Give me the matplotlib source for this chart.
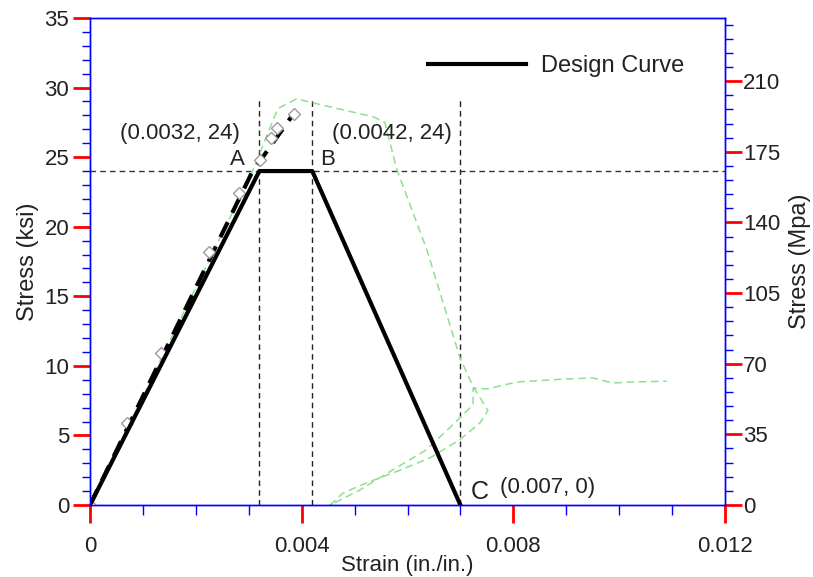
import matplotlib
matplotlib.use("Agg")
import matplotlib.pyplot as plt
from matplotlib.ticker import MultipleLocator

plt.rcParams['font.family'] = ['Liberation Sans', 'DejaVu Sans']

# Design curve
design_strain = [0.0, 0.0032, 0.0042, 0.007]
design_stress = [0.0, 24.0, 24.0, 0.0]

# Test data (diamonds / dashed)
test_strain = [0.0, 0.0007, 0.00134, 0.00225, 0.00282, 0.00321, 0.00342, 0.00354, 0.00386]
test_stress = [0.0, 5.9, 10.9, 18.2, 22.4, 24.8, 26.4, 27.1, 28.1]
fit_strain = [0.0, 0.00306, 0.00388]
fit_stress = [0.0, 23.9, 28.3]

# Experimental hysteresis (green dashed)
green_strain = [0.0, 0.00306, 0.00355, 0.00391, 0.0041, 0.00535, 0.00557, 0.0058, 0.00637,
                0.00699, 0.00724, 0.00752, 0.00737, 0.00699, 0.00643, 0.00586, 0.00523,
                0.00478, 0.00454, 0.0051, 0.00571, 0.00635, 0.00681, 0.00724, 0.00724,
                0.0075, 0.00807, 0.00901, 0.0095, 0.00988, 0.01026, 0.0109]
green_stress = [0.0, 23.9, 28.5, 29.2, 29.0, 27.9, 27.5, 24.1, 18.3,
                10.6, 8.5, 6.8, 5.9, 4.7, 3.4, 2.5, 1.6,
                0.86, 0.0, 1.08, 2.5, 3.95, 5.6, 7.2, 8.4,
                8.34, 8.84, 9.06, 9.13, 8.77, 8.84, 8.9]

ref_x = [0.0032, 0.0042, 0.007]
ref_top = 29.1
ref_y = 24.0

ksi_to_mpa = 6.895
left_ticks = [0, 5, 10, 15, 20, 25, 30, 35]
right_ticks = [0, 35, 70, 105, 140, 175, 210]
x_ticks = [0, 0.004, 0.008, 0.012]
x_ticklabels = ['0', '0.004', '0.008', '0.012']

fig = plt.figure(figsize=(8.13, 5.77), dpi=100)
ax = fig.add_axes([90/813, 1-505/577, (725-90)/813, (505-18)/577])

# reference lines
ax.axhline(ref_y, color='#333333', ls=(0, (4, 3)), lw=1.0, zorder=1)
for xv in ref_x:
    ax.plot([xv, xv], [0, ref_top], color='#222222', ls=(0, (4, 3)), lw=1.0, zorder=1)

ax.plot(green_strain, green_stress, color='#8fe08f', ls=(0, (5, 3)), lw=1.1, zorder=2)
ax.plot(fit_strain, fit_stress, color='black', ls=(0, (4, 2.5)), lw=3, zorder=3)
ax.plot(test_strain, test_stress, ls='none', marker='D', ms=6.5, mfc='white', mec='#a09aa0',
        mew=1.0, zorder=4)
ax.plot(design_strain, design_stress, color='black', lw=3, zorder=5, label='Design Curve')

ax.set_xlim(0, 0.012)
ax.set_ylim(0, 35)
ax.set_xticks(x_ticks)
ax.set_xticklabels(x_ticklabels)
ax.set_yticks(left_ticks)
ax.xaxis.set_minor_locator(MultipleLocator(0.001))
ax.yaxis.set_minor_locator(MultipleLocator(1))

for s in ax.spines.values():
    s.set_color('blue')
    s.set_linewidth(1.0)

ax.tick_params(which='major', color='red', length=12, width=2, direction='out',
               labelsize=16, labelcolor='#222222', pad=3)
ax.tick_params(which='minor', color='blue', length=6, width=1, direction='out')
ax.tick_params(axis='x', which='major', length=13, pad=9)
ax.tick_params(axis='x', which='minor', length=7)

ax.set_xlabel('Strain (in./in.)', fontsize=16, color='#222222', labelpad=-1)
ax.set_ylabel('Stress (ksi)', fontsize=17, color='#222222', labelpad=4)

ax2 = ax.twinx()
ax2.set_ylim(0, 35 * ksi_to_mpa)
ax2.set_yticks(right_ticks)
ax2.yaxis.set_minor_locator(MultipleLocator(7))
for s in ax2.spines.values():
    s.set_color('blue')
    s.set_linewidth(1.0)
ax2.tick_params(which='major', color='red', length=12, width=2, direction='out',
                labelsize=16, labelcolor='#222222', pad=1)
ax2.tick_params(which='minor', color='blue', length=6, width=1, direction='out')
ax2.set_ylabel('Stress (Mpa)', fontsize=17, color='#222222', labelpad=6)

# annotations
tc = '#222222'
ax.text(0.0017, 26.7, '(0.0032, 24)', fontsize=16, ha='center', va='center', color=tc)
ax.text(0.00278, 24.8, 'A', fontsize=16, ha='center', va='center', color=tc)
ax.text(0.00448, 24.8, 'B', fontsize=16, ha='center', va='center', color=tc)
ax.text(0.00571, 26.7, '(0.0042, 24)', fontsize=16, ha='center', va='center', color=tc)
ax.text(0.00737, 0.9, 'C', fontsize=18, ha='center', va='center', color=tc)
ax.text(0.00864, 1.25, '(0.007, 0)', fontsize=16, ha='center', va='center', color=tc)

leg = ax.legend(loc='center left', bbox_to_anchor=((422-90)/635 - 0.024, (505-66)/487),
                frameon=False, fontsize=17, handlelength=4.15, handletextpad=0.64)
for t in leg.get_texts():
    t.set_color(tc)

fig.savefig('out.png', dpi=100)
